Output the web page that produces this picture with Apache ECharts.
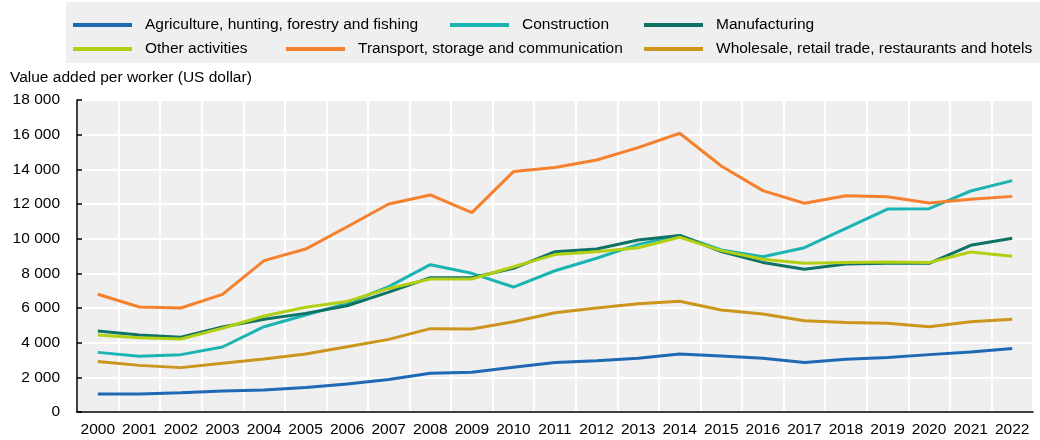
<!DOCTYPE html>
<html>
<head>
<meta charset="utf-8">
<script src="https://cdn.jsdelivr.net/npm/echarts@6/dist/echarts.min.js"></script>
<style>
  html, body { margin: 0; padding: 0; background: #fff; }
  #chart { width: 1040px; height: 440px; }
</style>
</head>
<body>
<div id="chart"></div>
<script>
// data
var years = ['2000', '2001', '2002', '2003', '2004', '2005', '2006', '2007', '2008', '2009', '2010', '2011',
    '2012', '2013', '2014', '2015', '2016', '2017', '2018', '2019', '2020', '2021', '2022'];

var agriculture = [1040, 1040, 1110, 1210, 1270, 1420, 1610, 1880, 2230, 2290, 2580, 2850,
    2960, 3100, 3350, 3230, 3100, 2850, 3040, 3150, 3310, 3460, 3670];
var construction = [3440, 3210, 3310, 3750, 4920, 5600, 6270, 7230, 8500, 8000, 7210, 8150,
    8870, 9670, 10190, 9350, 8960, 9480, 10600, 11710, 11730, 12750, 13350];
var manufacturing = [4670, 4440, 4310, 4900, 5350, 5690, 6130, 6920, 7750, 7750, 8290, 9250,
    9400, 9920, 10190, 9250, 8630, 8230, 8540, 8580, 8580, 9620, 10020];
var other = [4440, 4290, 4210, 4830, 5540, 6040, 6380, 7130, 7670, 7670, 8380, 9080,
    9250, 9480, 10080, 9310, 8810, 8580, 8620, 8650, 8620, 9230, 8980];
var transport = [6790, 6060, 6000, 6790, 8730, 9400, 10690, 12000, 12520, 11500, 13870, 14100,
    14540, 15250, 16080, 14190, 12770, 12040, 12480, 12420, 12060, 12270, 12440];
var wholesale = [2920, 2690, 2560, 2810, 3060, 3350, 3770, 4190, 4810, 4790, 5210, 5730,
    6000, 6250, 6385, 5885, 5650, 5270, 5170, 5115, 4920, 5210, 5350];

var names = ['Agriculture, hunting, forestry and fishing', 'Construction', 'Manufacturing',
    'Other activities', 'Transport, storage and communication', 'Wholesale, retail trade, restaurants and hotels'];
var colors = ['#1f69b4', '#1cb3b3', '#0e7265', '#b3cf12', '#f5812e', '#cc951c'];
var values = [agriculture, construction, manufacturing, other, transport, wholesale];

var FONT = '"Liberation Sans", Arial, sans-serif';

// legend spots [left, top] of each entry
var legendPos = [[73, 16], [450, 16], [644, 16], [73, 40], [286, 40], [644, 40]];

function makeLegend(i) {
    return {
        data: [names[i]],
        left: legendPos[i][0],
        top: legendPos[i][1],
        padding: 0,
        icon: 'rect',
        itemWidth: 59,
        itemHeight: 4,
        selectedMode: false,
        textStyle: {
            fontFamily: FONT,
            fontSize: 15.5,
            color: '#000',
            padding: [0, 0, 0, 8],
            lineHeight: 18
        }
    };
}

var legends = [];
var series = [];
for (var i = 0; i < names.length; i++) {
    legends.push(makeLegend(i));
    series.push({
        name: names[i],
        type: 'line',
        data: values[i],
        symbol: 'none',
        lineStyle: { width: 3, color: colors[i] },
        itemStyle: { color: colors[i] },
        z: 2 + i
    });
}

function fmt(v) {
    var s = String(v);
    if (s.length > 3) s = s.slice(0, s.length - 3) + ' ' + s.slice(s.length - 3);
    return s;
}

var myChart = echarts.init(document.getElementById('chart'), null, { renderer: 'canvas' });

var option = {
    animation: false,
    backgroundColor: '#fff',
    graphic: [{
        type: 'rect',
        left: 66, top: 2,
        shape: { width: 974, height: 61 },
        style: { fill: '#efefef' },
        z: -1
    }, {
        type: 'text',
        left: 10, top: 70,
        style: {
            text: 'Value added per worker (US dollar)',
            fontFamily: FONT,
            fontSize: 15.5,
            fill: '#000'
        }
    }],
    legend: legends,
    grid: {
        left: 77, right: 7, top: 100, bottom: 28,
        show: true,
        backgroundColor: '#efefef',
        borderWidth: 0
    },
    xAxis: {
        type: 'category',
        data: years,
        boundaryGap: true,
        axisLine: { lineStyle: { color: '#000', width: 1.5 } },
        axisTick: { inside: true, length: 6, lineStyle: { color: '#000', width: 1.5 } },
        axisLabel: { interval: 0, fontFamily: FONT, fontSize: 15.5, color: '#000', margin: 10 },
        splitLine: { show: true, interval: 0, lineStyle: { color: '#fff', width: 2 } }
    },
    yAxis: {
        type: 'value',
        min: 0, max: 18000, interval: 2000,
        axisLine: { show: true, lineStyle: { color: '#000', width: 1.5 } },
        axisTick: { show: true, inside: true, length: 5, lineStyle: { color: '#000', width: 1.5 } },
        axisLabel: { fontFamily: FONT, fontSize: 15.5, color: '#000', margin: 17, formatter: fmt },
        splitLine: { show: true, lineStyle: { color: '#fff', width: 2 } }
    },
    series: series
};

myChart.setOption(option);
</script>
</body>
</html>
